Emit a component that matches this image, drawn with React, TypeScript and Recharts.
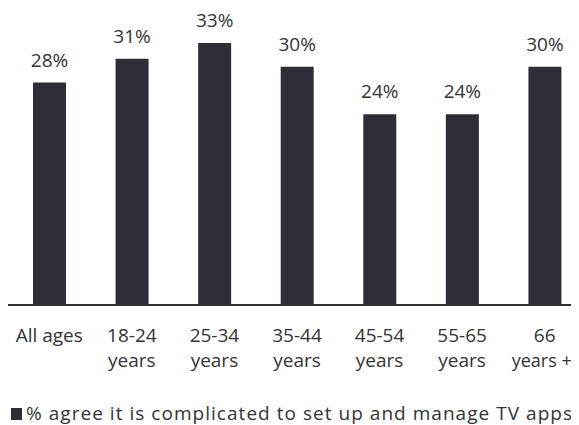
import React from "react";
import { BarChart, Bar, XAxis, YAxis, LabelList, Legend } from "recharts";

const categories = ["All ages", "18-24 years", "25-34 years", "35-44 years", "45-54 years", "55-65 years", "66 years +"];
const tickLines: string[][] = [
  ["All ages"],
  ["18-24", "years"],
  ["25-34", "years"],
  ["35-44", "years"],
  ["45-54", "years"],
  ["55-65", "years"],
  ["66", "years +"],
];
const values = [28, 31, 33, 30, 24, 24, 30];
const seriesName = "% agree it is complicated to set up and manage TV apps";

const data = categories.map((c, i) => ({ name: c, value: values[i] }));

const FONT = "'Open Sans', 'Noto Sans', sans-serif";
const TEXT = "#333333";
const BAR = "#2e2e38";

const Tick = (props: any) => {
  const { x, y, index } = props;
  const lines = tickLines[index] || [String(props.payload.value)];
  const isLast = index === tickLines.length - 1;
  return (
    <g>
      {lines.map((l, i) => (
        <text
          key={i}
          x={x}
          y={y + 37 + i * 25}
          dx={isLast && i === 1 ? -3 : 0}
          textAnchor="middle"
          fill={TEXT}
          fontFamily={FONT}
          fontSize={isLast && i === 1 ? 18 : 19}
        >
          {l}
        </text>
      ))}
    </g>
  );
};

const LegendContent = () => (
  <svg width={578} height={30} style={{ display: "block" }}>
    <rect x={3} y={13} width={11} height={12} fill={BAR} />
    <text x={18} y={25} fill={TEXT} fontFamily={FONT} fontSize={19} textLength={546} lengthAdjust="spacing">
      {seriesName}
    </text>
  </svg>
);

export default function App() {
  return (
    <div style={{ width: 578, height: 425, marginTop: -8 }}>
      <BarChart width={578} height={425} data={data} margin={{ top: 27, right: 0, left: 0, bottom: 0 }} barSize={33}>
        <YAxis hide domain={[0, 35]} />
        <XAxis
          dataKey="name"
          height={90}
          tickLine={false}
          tickSize={0}
          tickMargin={0}
          interval={0}
          axisLine={{ stroke: BAR, strokeWidth: 2 }}
          tick={<Tick />}
        />
        <Legend
          verticalAlign="bottom"
          align="left"
          wrapperStyle={{ left: 0, bottom: 0, width: 578, height: 30 }}
          content={<LegendContent />}
        />
        <Bar dataKey="value" name={seriesName} fill={BAR} isAnimationActive={false}>
          <LabelList
            dataKey="value"
            position="top"
            offset={16}
            formatter={(v: any) => `${v}%`}
            fill={TEXT}
            fontFamily={FONT}
            fontSize={19}
          />
        </Bar>
      </BarChart>
    </div>
  );
}
